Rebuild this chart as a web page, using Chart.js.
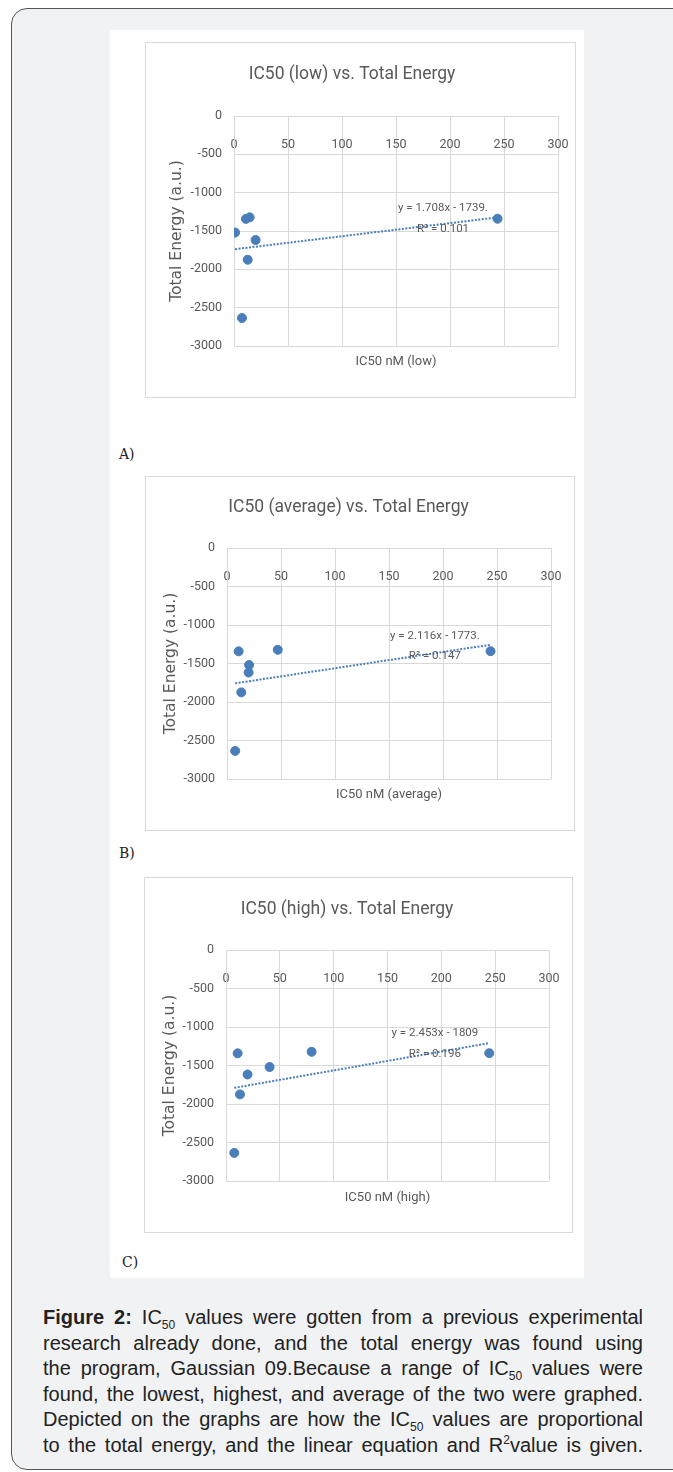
<!DOCTYPE html>
<html>
<head>
<meta charset="utf-8">
<script src="https://cdn.jsdelivr.net/npm/chart.js@4/dist/chart.umd.min.js"></script>
<style>
  body { margin: 0; background: #fff; width: 673px; height: 1472px; position: relative; overflow: hidden; }
  .frame { position: absolute; left: 11px; top: 8px; width: 676px; height: 1460px; background: #f1f2f4; border: 1.5px solid #555; border-radius: 16px; }
  .panel { position: absolute; left: 110px; top: 30px; width: 474px; height: 1248px; background: #fff; }
  .box { position: absolute; border: 1px solid #d9d9d9; background: #fff; }
  .box canvas { display: block; }
  .tag { position: absolute; font-family: "DejaVu Serif", "Liberation Serif", serif; font-size: 14px; color: #222; }
  .caption { position: absolute; left: 43px; top: 1305px; width: 600px; font-family: "Liberation Sans", Arial, sans-serif; font-size: 20px; line-height: 25.6px; color: #222; }
  .caption div { text-align: justify; text-align-last: justify; white-space: nowrap; }
  .caption sub, .caption sup { font-size: 12px; line-height: 0; }
</style>
</head>
<body>
<div class="frame"></div>
<div class="panel"></div>

<div class="box" style="left:145px; top:42px;"><canvas id="chartLow"></canvas></div>
<div class="box" style="left:145px; top:476px;"><canvas id="chartAverage"></canvas></div>
<div class="box" style="left:144px; top:877px;"><canvas id="chartHigh"></canvas></div>

<div class="tag" style="left:119px; top:446px;">A)</div>
<div class="tag" style="left:119px; top:845px;">B)</div>
<div class="tag" style="left:122px; top:1254px;">C)</div>

<div class="caption">
  <div><b>Figure 2:</b> IC<sub>50</sub> values were gotten from a previous experimental</div>
  <div>research already done, and the total energy was found using</div>
  <div>the program, Gaussian 09.Because a range of IC<sub>50</sub> values were</div>
  <div>found, the lowest, highest, and average of the two were graphed.</div>
  <div>Depicted on the graphs are how the IC<sub>50</sub> values are proportional</div>
  <div>to the total energy, and the linear equation and R<sup>2</sup>value is given.</div>
</div>

<script>
// same seven compounds in every panel
const totalEnergy = [-1520, -1342, -1322, -1617, -1875, -2635, -1340];
const ic50Low = [1, 11, 14.5, 20, 12.7, 7.4, 244];
const ic50Average = [20.5, 10.8, 47, 20, 13.2, 7.6, 244];
const ic50High = [40.5, 10.8, 79.5, 20, 13, 7.7, 244.5];

const chartTitles = ['IC50 (low) vs. Total Energy', 'IC50 (average) vs. Total Energy', 'IC50 (high) vs. Total Energy'];
const xAxisTitles = ['IC50 nM (low)', 'IC50 nM (average)', 'IC50 nM (high)'];
const yAxisTitle = 'Total Energy (a.u.)';
const xTickMin = 0, xTickMax = 300, xTickStep = 50;
const yTickMin = -3000, yTickMax = 0, yTickStep = 500;

const trendSlopes = [1.708, 2.116, 2.453];
const trendIntercepts = [-1739, -1773, -1809];
const trendEquations = ['y = 1.708x - 1739.', 'y = 2.116x - 1773.', 'y = 2.453x - 1809'];
const trendR2 = ['R\u00b2 = 0.101', 'R\u00b2 = 0.147', 'R\u00b2 = 0.196'];

const NARROW = 'Roboto, "Liberation Sans", sans-serif';
const TEXT = '#595959';
const GRID = '#d9d9d9';
const BLUE = '#4a7ebb';

// canvas geometry of each panel (pixels inside its box)
const panels = [
    { id: 'chartLow', x: ic50Low, w: 429, h: 354, left: 88, right: 412, top: 73, bottom: 303, titleY: 32, xTitleY: 319, yTitleX: 31, labelX: 193.5, labelY: [-1204, -1478] },
    { id: 'chartAverage', x: ic50Average, w: 428, h: 353, left: 81, right: 405, top: 71, bottom: 302, titleY: 31, xTitleY: 318, yTitleX: 25, labelX: 192.5, labelY: [-1140, -1409] },
    { id: 'chartHigh', x: ic50High, w: 427, h: 354, left: 81, right: 404, top: 72, bottom: 303, titleY: 32, xTitleY: 320, yTitleX: 25, labelX: 194, labelY: [-1079, -1353] },
];

const trendLabelPlugin = {
    id: 'trendLabel',
    afterDatasetsDraw(chart, args, opts) {
        const { ctx, scales } = chart;
        ctx.save();
        ctx.font = '11.5px ' + NARROW;
        ctx.fillStyle = TEXT;
        ctx.textAlign = 'center';
        ctx.textBaseline = 'middle';
        const px = scales.x.getPixelForValue(opts.x);
        ctx.fillText(opts.lines[0], px, scales.y.getPixelForValue(opts.y[0]));
        ctx.fillText(opts.lines[1], px, scales.y.getPixelForValue(opts.y[1]));
        ctx.restore();
    },
};

panels.forEach((p, i) => {
    const canvas = document.getElementById(p.id);
    canvas.width = p.w;
    canvas.height = p.h;

    const points = p.x.map((v, k) => ({ x: v, y: totalEnergy[k] }));
    const xMin = Math.min(...p.x);
    const xMax = Math.max(...p.x);
    const trend = [
        { x: xMin, y: trendSlopes[i] * xMin + trendIntercepts[i] },
        { x: xMax, y: trendSlopes[i] * xMax + trendIntercepts[i] },
    ];

    const titleSize = 17.5, titleLH = titleSize * 1.2;
    const subSize = 13, subLH = subSize * 1.2;
    const yTitleSize = 15.5, yTitleLH = yTitleSize * 1.2;

    new Chart(canvas, {
        type: 'scatter',
        data: {
            datasets: [
                {
                    data: points,
                    backgroundColor: BLUE,
                    borderColor: BLUE,
                    pointRadius: 4.5,
                    pointHoverRadius: 4.5,
                    order: 1,
                },
                {
                    type: 'line',
                    data: trend,
                    borderColor: BLUE,
                    borderWidth: 2,
                    borderDash: [2, 1.5],
                    pointRadius: 0,
                    fill: false,
                    order: 2,
                },
            ],
        },
        options: {
            responsive: false,
            animation: false,
            events: [],
            layout: {
                padding: { left: 0, right: p.w - p.right, top: 0, bottom: 0 },
            },
            plugins: {
                legend: { display: false },
                tooltip: { enabled: false },
                title: {
                    display: true,
                    text: chartTitles[i],
                    color: TEXT,
                    font: { family: NARROW, size: titleSize, weight: 'normal' },
                    padding: { top: p.titleY - titleLH / 2, bottom: p.top - (p.titleY + titleLH / 2) },
                },
                subtitle: {
                    display: true,
                    position: 'bottom',
                    fullSize: false,
                    text: xAxisTitles[i],
                    color: TEXT,
                    font: { family: NARROW, size: subSize, weight: 'normal' },
                    padding: { top: p.xTitleY - p.bottom - subLH / 2, bottom: p.h - (p.xTitleY + subLH / 2) },
                },
                trendLabel: { x: p.labelX, y: p.labelY, lines: [trendEquations[i], trendR2[i]] },
            },
            scales: {
                x: {
                    type: 'linear',
                    position: { y: 0 },
                    min: xTickMin,
                    max: xTickMax,
                    // labels sit below the zero line; keep them from shrinking the plot
                    afterFit: (scale) => { scale.paddingLeft = 0; scale.paddingRight = 0; },
                    ticks: {
                        stepSize: xTickStep,
                        padding: 21,
                        color: TEXT,
                        font: { family: NARROW, size: 12.5 },
                        callback: (v) => String(v),
                    },
                    grid: { color: GRID, drawTicks: false },
                    border: { color: GRID },
                },
                y: {
                    type: 'linear',
                    position: 'left',
                    min: yTickMin,
                    max: yTickMax,
                    afterFit: (scale) => { scale.width = p.left; },
                    ticks: {
                        stepSize: yTickStep,
                        padding: 12,
                        color: TEXT,
                        font: { family: NARROW, size: 12.5 },
                        callback: (v) => String(v),
                    },
                    grid: { color: GRID, drawTicks: false },
                    border: { color: GRID },
                    title: {
                        display: true,
                        text: yAxisTitle,
                        color: TEXT,
                        font: { family: '"DejaVu Sans", Verdana, sans-serif', size: yTitleSize },
                        padding: { top: p.yTitleX - yTitleLH / 2, bottom: 0 },
                    },
                },
            },
        },
        plugins: [trendLabelPlugin],
    });
});
</script>
</body>
</html>
